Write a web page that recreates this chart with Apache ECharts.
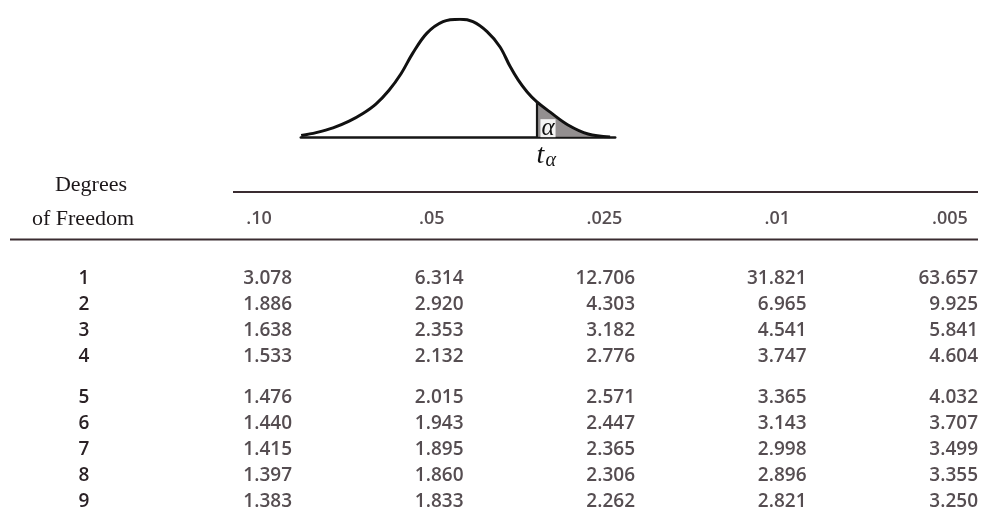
<!DOCTYPE html>
<html><head><meta charset="utf-8">
<script src="https://cdn.jsdelivr.net/npm/echarts@6/dist/echarts.min.js"></script>
<style>html,body{margin:0;padding:0;background:#fff}#c{width:987px;height:516px}</style>
</head><body><div id="c"></div><script>
// Bell curve outline (t units, density)
const curveT = [-3.99,-3.61,-3.18,-2.77,-2.42,-2.09,-1.76,-1.45,-1.15,-0.79,-0.38,0.05,0.38,0.74,1.07,1.32,1.53,1.76,2.00,2.38,2.80,3.31,3.87];
const curveDensity = [0.005,0.015,0.031,0.054,0.080,0.112,0.158,0.215,0.285,0.353,0.392,0.400,0.392,0.358,0.306,0.241,0.194,0.153,0.120,0.081,0.041,0.010,0.000];
const tAlpha = 2.00;
// Table
const alphaLabels = ['.10','.05','.025','.01','.005'];
const degreesFreedom = ['1','2','3','4','5','6','7','8','9'];
const col10  = [3.078,1.886,1.638,1.533,1.476,1.440,1.415,1.397,1.383];
const col05  = [6.314,2.920,2.353,2.132,2.015,1.943,1.895,1.860,1.833];
const col025 = [12.706,4.303,3.182,2.776,2.571,2.447,2.365,2.306,2.262];
const col01  = [31.821,6.965,4.541,3.747,3.365,3.143,2.998,2.896,2.821];
const col005 = [63.657,9.925,5.841,4.604,4.032,3.707,3.499,3.355,3.250];
const columns = [col10,col05,col025,col01,col005];
const rowBlocks = [[0,4],[4,9]];

const ink = '#2a2125';
const numFont = {fontFamily:'Open Sans', fontSize:19, fontWeight:600, color:ink};

const chart = echarts.init(document.getElementById('c'), null, {renderer:'canvas'});

const curveData = curveT.map((t,i)=>[t, curveDensity[i]]);
const tailData = curveData.filter(p=>p[0] >= tAlpha);
const tailTop = tailData[0][1];

const grids = [
  {left:300.8, top:19.3, width:314.4, height:117.7},
  {left:86.25, top:195, width:863.75, height:48},
  {left:120.5, top:265, width:857.5, height:105},
  {left:120.5, top:384, width:857.5, height:131}
].map(g=>Object.assign({outerBoundsMode:'none', containLabel:false}, g));

const xAxes = [
  {gridIndex:0, type:'value', min:-4, max:4, interval:1,
   axisLine:{show:true, lineStyle:{color:'#161616', width:2.5}},
   axisTick:{show:false}, splitLine:{show:false},
   axisLabel:{show:true, margin:4, showMinLabel:false, showMaxLabel:false, align:'left',
     formatter:v => Math.abs(v - tAlpha) < 1e-9 ? '{t|t}{a|α}' : '',
     rich:{t:{fontFamily:'Liberation Serif', fontStyle:'italic', fontSize:28, color:'#111', lineHeight:28},
           a:{fontFamily:'Liberation Serif', fontStyle:'italic', fontSize:20, color:'#111', padding:[10,0,0,1]}}}},
  {gridIndex:1, type:'value', min:0, max:5, show:false},
  {gridIndex:2, type:'value', min:0, max:5, show:false},
  {gridIndex:3, type:'value', min:0, max:5, show:false}
];
const yAxes = [
  {gridIndex:0, type:'value', min:0, max:0.4, show:false},
  {gridIndex:1, type:'value', min:-1, max:1, show:false},
  ...rowBlocks.map((b,i)=>({gridIndex:2+i, type:'category', inverse:true,
     data:degreesFreedom.slice(b[0],b[1]),
     axisLine:{show:false}, axisTick:{show:false}, splitLine:{show:false},
     axisLabel:Object.assign({align:'center', margin:36.5}, numFont)}))
];

const series = [
  {type:'line', xAxisIndex:0, yAxisIndex:0, data:tailData, smooth:0.35, symbol:'none',
   lineStyle:{width:0}, areaStyle:{color:'#807b7c', opacity:0.85}, silent:true, z:2,
   markLine:{silent:true, symbol:'none', label:{show:false},
     lineStyle:{color:'#161616', width:2.2, type:'solid'},
     data:[[{coord:[tAlpha,0]},{coord:[tAlpha,tailTop]}]]},
   markPoint:{silent:true, symbolSize:0,
     label:{show:true, formatter:'α', fontFamily:'Liberation Serif', fontStyle:'italic', fontSize:25,
       lineHeight:18, color:'#111', backgroundColor:'rgba(255,255,255,0.9)', padding:[0,1,0,1]},
     data:[{coord:[tAlpha+0.29, 0.03]}]}},
  {type:'line', xAxisIndex:0, yAxisIndex:0, data:curveData, smooth:0.35, symbol:'none',
   lineStyle:{color:'#111', width:3}, silent:true, z:3},
  {type:'scatter', xAxisIndex:1, yAxisIndex:1, symbolSize:0, silent:true,
   data:alphaLabels.map((a,i)=>({name:a, value:[i+1,0]})),
   label:Object.assign({show:true, position:'inside', formatter:'{b}'}, numFont, {fontSize:18})}
];
rowBlocks.forEach((b,gi)=>{
  columns.forEach((col,k)=>{
    series.push({type:'scatter', xAxisIndex:2+gi, yAxisIndex:2+gi, symbolSize:0, silent:true,
      data:col.slice(b[0],b[1]).map((v,j)=>[k+1, j, v]),
      label:Object.assign({show:true, position:'left', distance:0,
        formatter:p=>p.value[2].toFixed(3)}, numFont)});
  });
});

chart.setOption({
  animation:false,
  backgroundColor:'#fff',
  grid:grids, xAxis:xAxes, yAxis:yAxes, series:series,
  graphic:[
    {type:'line', shape:{x1:233, y1:192, x2:978, y2:192}, style:{stroke:'#3a2c31', lineWidth:2}},
    {type:'line', shape:{x1:10, y1:239.5, x2:978, y2:239.5}, style:{stroke:'#3a2c31', lineWidth:2}},
    {type:'text', x:91, y:185, style:{text:'Degrees', fontFamily:'Liberation Serif', fontSize:22, fill:'#1c1719', align:'center', verticalAlign:'middle'}},
    {type:'text', x:83, y:219, style:{text:'of Freedom', fontFamily:'Liberation Serif', fontSize:22, fill:'#1c1719', align:'center', verticalAlign:'middle'}}
  ]
});
</script></body></html>
